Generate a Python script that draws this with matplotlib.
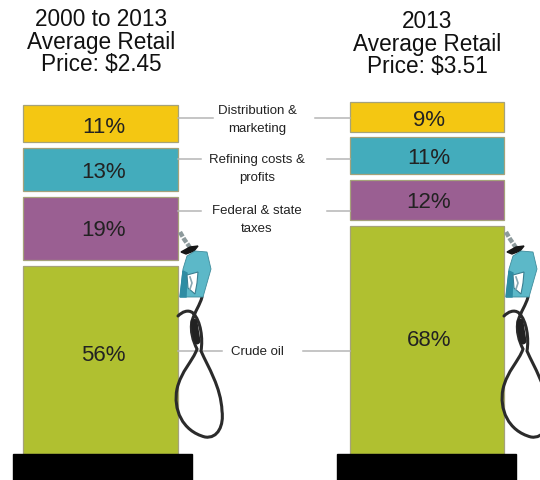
import matplotlib
matplotlib.use("Agg")
import matplotlib.pyplot as plt
from matplotlib.patches import PathPatch, Polygon, Rectangle
from matplotlib.path import Path

plt.rcParams["font.family"] = ["Liberation Sans", "DejaVu Sans"]

# Share of the retail price, listed from the bottom of each pump upwards
components = ["Crude oil", "Federal & state\ntaxes", "Refining costs &\nprofits", "Distribution &\nmarketing"]
shares_2000_2013 = [56, 19, 13, 11]
shares_2013 = [68, 12, 11, 9]
segment_colors = ["#b0c030", "#9a5f92", "#43acbc", "#f4c712"]
titles = ["2000 to 2013\nAverage Retail\nPrice: $2.45", "2013\nAverage Retail\nPrice: $3.51"]

W, H = 540, 481
PX_PER_PCT = 3.36
BASE_PX = 455
GAP = 1.6

fig = plt.figure(figsize=(W / 100, H / 100), dpi=100, facecolor="white")

# Bars live on a percent scale; annotations use a pixel-like canvas on top
bar_ax = fig.add_axes([0, 0, 1, 1])
bar_ax.set_xlim(0, W)
bar_ax.set_ylim(-(H - BASE_PX) / PX_PER_PCT, BASE_PX / PX_PER_PCT)
bar_ax.axis("off")

ax = fig.add_axes([0, 0, 1, 1])
ax.set_xlim(0, W)
ax.set_ylim(H, 0)
ax.axis("off")
ax.patch.set_alpha(0)


def stack(shares, left, width, label_dx, label_shift):
    bottom = 0
    for share, color, shift in zip(shares, segment_colors, label_shift):
        bar_ax.bar(left, share, width, bottom=bottom, align="edge", color=color,
                   edgecolor="#a5a27a", linewidth=0.9)
        bar_ax.text(left + width / 2 + label_dx, bottom + share / 2 + shift / PX_PER_PCT, f"{share}%",
                    ha="center", va="center", fontsize=16, color="#222222")
        bottom += share + GAP


stack(shares_2000_2013, 23, 155, 3, [5, -1, -2, -3])
stack(shares_2013, 350, 154, 2, [0, -2, -2, -3])

# Pedestals under the pumps
for x0 in (13, 337):
    ax.add_patch(Rectangle((x0, BASE_PX), 179, H - BASE_PX, color="black", zorder=3))

for text, x, y in zip(titles, (101, 427), (42, 44)):
    ax.text(x, y, text, ha="center", va="center", fontsize=16.3, linespacing=0.96, color="#111111")

# Component names with their leader lines
label_y = [352, 220, 169, 120]
leader_y = [352, 212, 160, 119]
left_ends = [222, 201, 201, 213]
right_starts = [303, 327, 327, 315]
for name, ly, y, x1, x2 in zip(components, label_y, leader_y, left_ends, right_starts):
    ax.text(257, ly, name, ha="center", va="center", fontsize=9.5, color="#222222", linespacing=1.6)
    ax.plot([178, x1], [y, y], color="#b5b5b5", lw=1.1, zorder=1)
    ax.plot([x2, 350], [y, y], color="#b5b5b5", lw=1.1, zorder=1)


def pump(dx):
    """Fuel nozzle and looped hose hanging beside a pump."""
    hose_verts = [
        (202, 298), (200, 306), (195, 312), (192, 322),
        (190, 332), (193, 342), (197, 350),
        (193, 362), (181, 372), (177, 390),
        (173, 410), (182, 432), (205, 438),
        (218, 440), (224, 426), (222, 412),
        (221, 388), (208, 368), (201, 352),
        (203, 340), (201, 322), (193, 314),
        (188, 310), (182, 313), (178, 317),
    ]
    codes = [Path.MOVETO] + [Path.CURVE4] * (len(hose_verts) - 1)
    ax.add_patch(PathPatch(Path([(v[0] + dx, v[1]) for v in hose_verts], codes),
                           fill=False, edgecolor="#2b2b2b", lw=2.2, capstyle="round", zorder=2))
    # Thick overlap where the strands bundle together
    ax.plot([194 + dx, 197 + dx], [323, 342], color="#222222", lw=5, solid_capstyle="round", zorder=2)
    # Flexible grey neck above the collar
    ax.plot([180 + dx, 184 + dx, 191 + dx], [233, 240, 250], color="#8d9a9c", lw=3.2, ls=(0, (1.2, 0.35)), zorder=2)
    # Black collar
    ax.add_patch(Polygon([(181 + dx, 253), (190 + dx, 248), (198 + dx, 247), (194 + dx, 252),
                          (186 + dx, 255)], color="#161616", zorder=3))
    # Teal nozzle body
    ax.add_patch(Polygon([(187 + dx, 257), (195 + dx, 252), (207 + dx, 253), (211 + dx, 270),
                          (203 + dx, 298), (180 + dx, 298), (183 + dx, 270)],
                         facecolor="#5cb8c8", edgecolor="#3f8c9c", lw=0.6, zorder=3))
    ax.add_patch(Polygon([(180 + dx, 298), (183 + dx, 272), (187 + dx, 274), (186 + dx, 298)],
                         color="#2e8ca3", zorder=4))
    # Trigger opening
    ax.add_patch(Polygon([(187 + dx, 276), (198 + dx, 273), (197 + dx, 284), (195 + dx, 295),
                          (188 + dx, 289)], facecolor="white", edgecolor="#3a7f92", lw=0.8, zorder=4))
    ax.plot([190 + dx, 192 + dx, 190 + dx], [278, 284, 290], color="#8aa7b2", lw=1.2, zorder=5)


pump(0)
pump(326)

fig.savefig("out.png", dpi=100, facecolor="white")
